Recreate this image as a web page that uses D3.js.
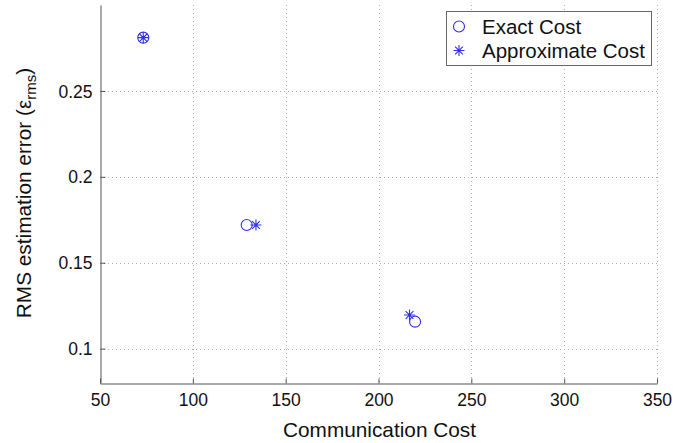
<!DOCTYPE html>
<html>
<head>
<meta charset="utf-8">
<script src="https://cdn.jsdelivr.net/npm/d3@7"></script>
<style>
  html, body { margin: 0; padding: 0; background: #fff; }
  svg { display: block; font-family: "Liberation Sans", Arial, Helvetica, sans-serif; }
</style>
</head>
<body>
<svg id="chart" width="688" height="443"></svg>
<script>
// Communication cost vs. RMS estimation error for the two cost models
const exactCost = [73.3, 129, 219.7];
const exactErr = [0.281, 0.172, 0.1157];
const approxCost = [73.3, 134, 216.7];
const approxErr = [0.281, 0.172, 0.1196];
const xTicks = [50, 100, 150, 200, 250, 300, 350];
const yTicks = [0.1, 0.15, 0.2, 0.25];
const seriesNames = ["Exact Cost", "Approximate Cost"];

const svg = d3.select("#chart");
const plotL = 100, plotR = 657, plotT = 5, plotB = 383;
const blue = "#3030ee";
const axisColor = "#555";

const x = d3.scaleLinear().domain([50, 350]).range([plotL, plotR]);
const y = d3.scaleLinear().domain([0.08, 0.3]).range([plotB, plotT]);

// dotted grid
const grid = svg.append("g").attr("stroke", "#b0b0b0").attr("stroke-width", 1)
  .attr("stroke-dasharray", "1,3");
grid.selectAll("line.v").data(xTicks.slice(1)).join("line").attr("class", "v")
  .attr("x1", d => Math.round(x(d)) + 0.5).attr("x2", d => Math.round(x(d)) + 0.5)
  .attr("y1", plotT).attr("y2", plotB);
grid.selectAll("line.h").data(yTicks).join("line").attr("class", "h")
  .attr("x1", plotL).attr("x2", plotR)
  .attr("y1", d => Math.round(y(d)) + 0.5).attr("y2", d => Math.round(y(d)) + 0.5);

// axes with inward ticks
const xAxis = svg.append("g").attr("transform", `translate(0,${plotB + 0.5})`)
  .call(d3.axisTop(x).tickValues(xTicks).tickSize(5).tickSizeOuter(0).tickFormat(d3.format("d")));
xAxis.select(".domain").attr("stroke", axisColor);
xAxis.selectAll(".tick line").attr("stroke", axisColor);
xAxis.selectAll(".tick text").attr("y", 22).attr("dy", 0).attr("fill", "#111")
  .attr("font-size", "17.5px");

const yAxis = svg.append("g").attr("transform", `translate(${plotL + 0.5},0)`)
  .call(d3.axisRight(y).tickValues(yTicks).tickSize(5).tickSizeOuter(0).tickFormat(d => String(+d.toFixed(2))));
yAxis.select(".domain").attr("stroke", axisColor);
yAxis.selectAll(".tick line").attr("stroke", axisColor);
yAxis.selectAll(".tick text").attr("x", -8).attr("dy", "0.35em").attr("text-anchor", "end")
  .attr("fill", "#111").attr("font-size", "17.5px");

// axis titles
svg.append("text").attr("x", (plotL + plotR) / 2 + 1).attr("y", 437)
  .attr("text-anchor", "middle").attr("font-size", "20.8px").attr("fill", "#111")
  .text("Communication Cost");

const yl = svg.append("text")
  .attr("transform", `translate(31,${(plotT + plotB) / 2 - 1}) rotate(-90)`)
  .attr("text-anchor", "middle").attr("font-size", "20.8px").attr("fill", "#111");
yl.append("tspan").text("RMS estimation error (ε");
yl.append("tspan").attr("font-size", "15px").attr("dy", 5).text("rms");
yl.append("tspan").attr("dy", -5).text(")");

// eight-armed asterisk marker
function asterisk(g, cx, cy, r) {
  const path = d3.path();
  for (let k = 0; k < 4; k++) {
    const a = k * Math.PI / 4;
    path.moveTo(cx - r * Math.cos(a), cy - r * Math.sin(a));
    path.lineTo(cx + r * Math.cos(a), cy + r * Math.sin(a));
  }
  g.append("path").attr("d", path.toString()).attr("stroke", blue)
    .attr("stroke-width", 1.1).attr("fill", "none");
}

const pts = svg.append("g");
pts.selectAll("circle").data(d3.range(exactCost.length)).join("circle")
  .attr("cx", i => x(exactCost[i])).attr("cy", i => y(exactErr[i])).attr("r", 5.5)
  .attr("fill", "none").attr("stroke", blue).attr("stroke-width", 1.1);
approxCost.forEach((c, i) => asterisk(pts, x(c), y(approxErr[i]), 5.5));

// legend
const lg = svg.append("g");
lg.append("rect").attr("x", 446.5).attr("y", 11.5).attr("width", 205).attr("height", 54)
  .attr("fill", "#fff").attr("stroke", "#666").attr("stroke-width", 1);
lg.append("circle").attr("cx", 459).attr("cy", 26.5).attr("r", 5.5)
  .attr("fill", "none").attr("stroke", blue).attr("stroke-width", 1.1);
asterisk(lg, 459, 50.5, 5.5);
lg.selectAll("text").data(seriesNames).join("text")
  .attr("x", 482).attr("y", (d, i) => 33.5 + i * 24)
  .attr("font-size", "20.5px").attr("fill", "#111").text(d => d);
</script>
</body>
</html>
